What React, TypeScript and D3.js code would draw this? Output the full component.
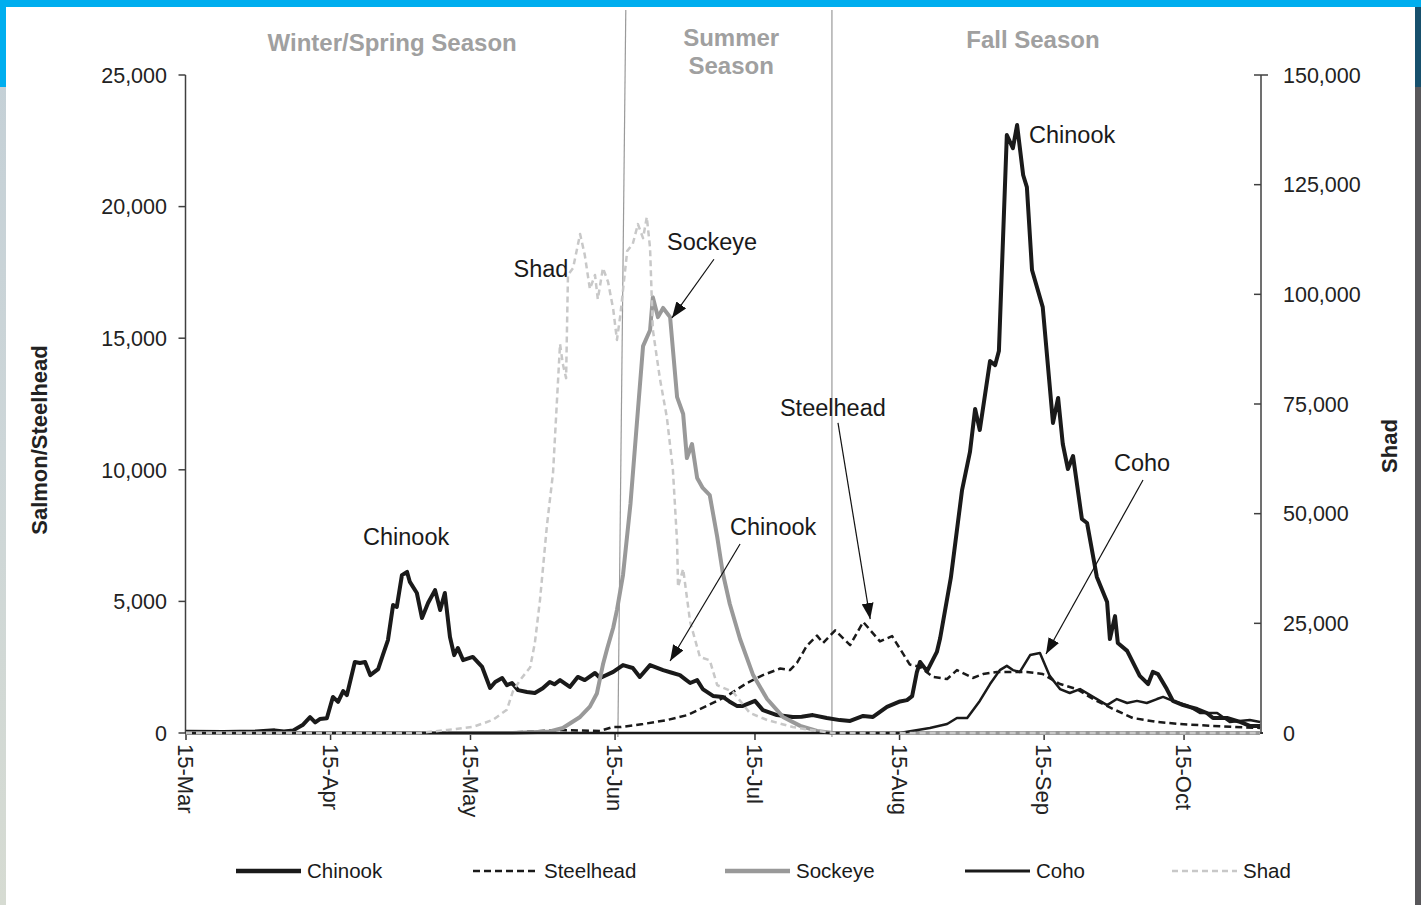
import React from 'react';
import * as d3 from 'd3';

const W = 1421;
const H = 905;

// x = days since 15-Mar
const xTickDays = [0, 31, 61, 92, 122, 153, 184, 214];
const xTickLabels = ['15-Mar', '15-Apr', '15-May', '15-Jun', '15-Jul', '15-Aug', '15-Sep', '15-Oct'];
const leftTicks = [0, 5000, 10000, 15000, 20000, 25000];
const rightTicks = [0, 25000, 50000, 75000, 100000, 125000, 150000];

const chinook: [number, number][] = [
  [0, 50], [8, 40], [15, 60], [19, 100], [21, 60], [23, 100], [25, 300], [26.6, 600], [27.7, 400], [28.7, 530],
  [30.2, 560], [31.5, 1370], [32.6, 1180], [33.7, 1590], [34.5, 1440], [36.2, 2700], [37.3, 2660], [38.4, 2700],
  [39.5, 2200], [41.2, 2430], [42.2, 2960], [43.3, 3530], [44.4, 4860], [45.2, 4790], [46.3, 6000], [47.4, 6120],
  [48, 5740], [49.5, 5320], [50.6, 4370], [51.9, 4940], [53.4, 5430], [54.5, 4670], [55.5, 5320], [56.6, 3650],
  [57.5, 2960], [58.3, 3230], [59.4, 2770], [61.5, 2890], [63.5, 2510], [65.2, 1710], [66.3, 1940], [67.8, 2090],
  [68.8, 1820], [69.9, 1900], [71.2, 1630], [73.1, 1560], [74.8, 1520], [76.5, 1700], [78, 1940], [79, 1850],
  [80.2, 2010], [82.3, 1750], [84, 2130], [85.5, 2010], [87.7, 2280], [88.8, 2090], [91.6, 2320], [93.7, 2580],
  [95.8, 2470], [97.3, 2130], [99.5, 2580], [102.3, 2390], [104, 2300], [105.9, 2200], [107, 2050], [108.1, 1900],
  [109.6, 2010], [110.8, 1670], [113, 1410], [115.1, 1370], [116.5, 1200], [118.1, 1030], [119.4, 1030], [122, 1220],
  [123.7, 870], [126.7, 680], [130.1, 610], [132, 620], [134.4, 680], [137.4, 570], [140.2, 490], [142.4, 460],
  [145.2, 650], [147.3, 610], [150.3, 990], [153.1, 1200], [154.6, 1250], [155.7, 1400], [156.7, 2300], [157.4, 2700],
  [158.9, 2350], [161, 3080], [161.7, 3600], [164, 5900], [166.4, 9230], [168.1, 10680], [169.2, 12310], [170.2, 11510],
  [172.4, 14130], [173.5, 13980], [174.3, 14510], [176, 22720], [177.3, 22220], [178.2, 23100], [179.5, 21200],
  [180.3, 20740], [181.4, 17590], [183.7, 16180], [185.9, 11780], [187, 12730], [188, 10980], [189.1, 10030],
  [190.2, 10520], [192.1, 8130], [193.2, 7980], [195.3, 5930], [197.5, 4980], [198.1, 3570], [199.2, 4440],
  [199.8, 3420], [201.8, 3120], [204.5, 2170], [206.3, 1860], [207.3, 2320], [208.4, 2240], [210.3, 1670],
  [211.6, 1220], [213.8, 1060], [216.8, 910], [218.9, 760], [220.2, 570], [223.2, 570], [226, 420], [228.1, 270],
  [230.3, 270],
];

const steelhead: [number, number][] = [
  [0, 0], [60, 0], [70, 20], [80.2, 110], [88.8, 80], [91.6, 230], [93.3, 230], [98, 340], [103.1, 490], [107.5, 680],
  [111.7, 1030], [116, 1410], [120.3, 1900], [123.7, 2200], [127.4, 2450], [129.5, 2390], [131, 2660], [133.1, 3310],
  [135.3, 3700], [136.6, 3420], [139.2, 3900], [142.4, 3340], [145.2, 4220], [148.8, 3480], [151.4, 3680],
  [155.2, 2600], [157.4, 2510], [160.2, 2130], [163.2, 2050], [165.3, 2390], [168.7, 2090], [170.9, 2240],
  [173.9, 2320], [177.3, 2320], [180.3, 2320], [183.7, 2240], [187.4, 1860], [191, 1670], [194.5, 1290],
  [198.8, 910], [203, 570], [208.2, 420], [213.1, 340], [220.2, 270], [230.3, 190],
];

const sockeye: [number, number][] = [
  [0, 0], [70, 0], [78, 60], [80.8, 190], [84.5, 610], [86.6, 1000], [88.1, 1500], [89.4, 2600], [90.3, 3200],
  [91.6, 4000], [92.4, 4670], [93.7, 6000], [95.3, 8700], [96.7, 11820], [98, 14700], [99.5, 15300], [100.1, 16560],
  [101.2, 15800], [102.3, 16150], [103.8, 15800], [105.3, 12760], [106.6, 12120], [107.4, 10450], [108.5, 10980],
  [109.6, 9690], [110.8, 9310], [112.3, 9040], [113.9, 7450], [115.1, 6080], [116.6, 4900], [118.8, 3570],
  [121.6, 2200], [124.6, 1290], [128, 610], [131.7, 270], [135.3, 80], [138.7, 0], [230.3, 0],
];

const coho: [number, number][] = [
  [0, 0], [153, 0], [159.5, 190], [163.2, 340], [165.3, 570], [167.5, 570], [170.2, 1220], [172.4, 1860],
  [174.5, 2390], [176, 2550], [177.3, 2390], [178.8, 2320], [181, 2960], [183.1, 3040], [185.2, 2170], [187.4, 1670],
  [189.5, 1520], [191.7, 1670], [194.5, 1370], [197.5, 1060], [199.6, 1290], [201.8, 1140], [203.9, 1220],
  [206, 1140], [208.2, 1290], [209.5, 1370], [211.6, 1220], [214.6, 1060], [217.4, 760], [221.1, 760], [223.8, 420],
  [228.1, 490], [230.3, 420],
];

const shad: [number, number][] = [
  [0, 0], [50, 0], [56, 700], [61.5, 1400], [64, 2300], [65.8, 3000], [68.8, 5300], [70.1, 9500], [71.6, 12000],
  [73.8, 15000], [74.8, 20500], [75.9, 30300], [77.4, 47400], [78.7, 59300], [80.2, 88700], [80.8, 84100],
  [81.5, 80900], [81.9, 104400], [83, 106000], [84.5, 113750], [85.5, 109000], [86.6, 101200], [87.7, 104400],
  [88.3, 98900], [89.4, 106000], [90.5, 102800], [91.6, 96650], [92.4, 89600], [93.1, 95000], [94.6, 109900],
  [95.8, 111500], [96.9, 116000], [98, 112800], [98.8, 117600], [99.5, 110600], [100.1, 91900], [101.6, 80900],
  [103.1, 72000], [104.4, 60000], [105.3, 43500], [105.5, 33300], [106.6, 37400], [108.1, 25300], [110.2, 17300],
  [112.3, 16600], [113.9, 10900], [117.3, 9350], [120.9, 4560], [124.6, 2960], [130.1, 1370], [135.3, 460],
  [138.7, 0], [230.3, 0],
];

// annotation labels: [text, day, value]
const labels: [string, number, number][] = [
  ['Chinook', 47.2, 7480],
  ['Shad', 76.1, 17630],
  ['Sockeye', 112.8, 18690],
  ['Chinook', 125.9, 7830],
  ['Steelhead', 138.7, 12380],
  ['Coho', 205, 10260],
  ['Chinook', 190, 22720],
];
// arrows: [fromDay, fromValue, toDay, toValue]
const arrows: [number, number, number, number][] = [
  [113.2, 18000, 104.2, 15770],
  [118.8, 7180, 103.8, 2735],
  [139.8, 11780, 146.7, 4330],
  [205.2, 9610, 184.4, 3000],
];
// season divider lines: [topDay, bottomDay]
const dividers: [number, number][] = [[94.3, 92.6], [138.5, 138.5]];
// season titles: [lines, centre day, baseline of first line]
const seasons: [string[], number, number][] = [
  [['Winter/Spring Season'], 44.2, 51],
  [['Summer', 'Season'], 116.9, 46],
  [['Fall Season'], 181.6, 48],
];

const legendItems = [
  { name: 'Chinook', color: '#1a1a1a', width: 4.5, dash: '' },
  { name: 'Steelhead', color: '#1a1a1a', width: 2.5, dash: '7,4' },
  { name: 'Sockeye', color: '#999999', width: 4.5, dash: '' },
  { name: 'Coho', color: '#1a1a1a', width: 3, dash: '' },
  { name: 'Shad', color: '#c8c8c8', width: 2.5, dash: '6,4' },
];
const legendX = [236, 473, 725, 965, 1172];

const FONT = '"Liberation Sans", Arial, Helvetica, sans-serif';

export default function App() {
  const x = d3.scaleLinear().domain([0, 230.5]).range([186, 1261]);
  const yL = d3.scaleLinear().domain([0, 25000]).range([733, 75]);
  const yR = d3.scaleLinear().domain([0, 150000]).range([733, 75]);
  const fmt = d3.format(',');

  const lineL = d3.line<[number, number]>().x(d => x(d[0])).y(d => yL(d[1]));
  const lineR = d3.line<[number, number]>().x(d => x(d[0])).y(d => yR(d[1]));

  const x0 = x(0) - 0.5;
  const x1 = x(230.5);
  const yBase = yL(0);
  const yTop = yL(25000);

  return (
    <svg width={W} height={H} style={{ position: 'absolute', left: 0, top: 0, display: 'block' }}
      fontFamily={FONT}>
      <defs>
        <linearGradient id="leftStrip" x1="0" y1="0" x2="0" y2="1">
          <stop offset="0" stopColor="#c3cfd6" />
          <stop offset="0.5" stopColor="#cdd6d8" />
          <stop offset="1" stopColor="#d6dbd2" />
        </linearGradient>
        <marker id="arrow" viewBox="0 0 16 12" refX="16" refY="6" markerWidth="16" markerHeight="12"
          markerUnits="userSpaceOnUse" orient="auto">
          <path d="M0,0 L16,6 L0,12 Z" fill="#111" />
        </marker>
      </defs>
      <rect x={0} y={0} width={W} height={H} fill="#ffffff" />
      <rect x={0} y={0} width={6} height={H} fill="url(#leftStrip)" />
      <rect x={0} y={0} width={6} height={87} fill="#00aeef" />
      <rect x={1415} y={0} width={6} height={H} fill="#58575a" />
      <rect x={1415} y={0} width={6} height={87} fill="#17506d" />
      <rect x={0} y={0} width={W} height={7} fill="#00aeef" />

      {/* season dividers */}
      {dividers.map((d, i) => (
        <line key={i} x1={x(d[0])} y1={10} x2={x(d[1])} y2={yBase + 4} stroke="#9a9a9a" strokeWidth={1.2} />
      ))}
      {seasons.map((s, i) => (
        <text key={i} x={x(s[1])} y={s[2]} textAnchor="middle" fontSize={24}
          fontWeight="bold" fill="#a0a0a0">
          {s[0].map((t, j) => (
            <tspan key={j} x={x(s[1])} dy={j === 0 ? 0 : 28}>{t}</tspan>
          ))}
        </text>
      ))}

      {/* left axis */}
      <line x1={x0} y1={yTop} x2={x0} y2={yBase} stroke="#404040" strokeWidth={1.5} />
      {leftTicks.map(t => (
        <g key={t}>
          <line x1={x0 - 7} x2={x0} y1={yL(t)} y2={yL(t)} stroke="#404040" strokeWidth={1.5} />
          <text x={167} y={yL(t)} dy="0.36em" textAnchor="end" fontSize={21.5} fill="#222">{fmt(t)}</text>
        </g>
      ))}
      {/* right axis */}
      <line x1={x1} y1={yTop} x2={x1} y2={yBase} stroke="#404040" strokeWidth={1.5} />
      {rightTicks.map(t => (
        <g key={t}>
          <line x1={x1 - 7} x2={t === 150000 ? x1 + 7 : x1} y1={yR(t)} y2={yR(t)} stroke="#404040" strokeWidth={1.5} />
          <text x={1283} y={yR(t)} dy="0.36em" textAnchor="start" fontSize={21.5} fill="#222">{fmt(t)}</text>
        </g>
      ))}
      {/* x axis */}
      <line x1={x0} y1={yBase} x2={x1 + 2} y2={yBase} stroke="#333" strokeWidth={2} />
      {xTickDays.map((d, i) => (
        <g key={d}>
          <line x1={x(d)} x2={x(d)} y1={yBase} y2={yBase + 7} stroke="#333" strokeWidth={1.5} />
          <text transform={`translate(${x(d)},744) rotate(90)`} dy="0.35em" textAnchor="start"
            fontSize={22} fill="#222">{xTickLabels[i]}</text>
        </g>
      ))}

      {/* axis titles */}
      <text transform={`translate(39,440) rotate(-90)`} textAnchor="middle" dy="0.35em" fontSize={22}
        fontWeight="bold" fill="#222">Salmon/Steelhead</text>
      <text transform={`translate(1389,446) rotate(-90)`} textAnchor="middle" dy="0.35em" fontSize={22}
        fontWeight="bold" fill="#222">Shad</text>

      {/* annotation labels (drawn before lines) */}
      {labels.map((l, i) => (
        <text key={i} x={x(l[1])} y={yL(l[2])} dy="0.36em" textAnchor="middle" fontSize={23.5} fill="#1a1a1a">{l[0]}</text>
      ))}

      {/* series */}
      <path d={lineL(chinook) || ''} fill="none" stroke="#1a1a1a" strokeWidth={4} strokeLinejoin="round" />
      <path d={lineL(steelhead) || ''} fill="none" stroke="#1a1a1a" strokeWidth={2.5} strokeDasharray="7,4" strokeLinejoin="round" />
      <path d={lineL(sockeye) || ''} fill="none" stroke="#999999" strokeWidth={4} strokeLinejoin="round" />
      <path d={lineL(coho) || ''} fill="none" stroke="#1a1a1a" strokeWidth={2.5} strokeLinejoin="round" />
      <path d={lineR(shad) || ''} fill="none" stroke="#c8c8c8" strokeWidth={2.5} strokeDasharray="6,4" strokeLinejoin="round" />

      {/* arrows */}
      {arrows.map((a, i) => (
        <line key={i} x1={x(a[0])} y1={yL(a[1])} x2={x(a[2])} y2={yL(a[3])} stroke="#111" strokeWidth={1.2}
          markerEnd="url(#arrow)" />
      ))}

      {/* legend */}
      {legendItems.map((it, i) => (
        <g key={it.name}>
          <line x1={legendX[i]} x2={legendX[i] + 65} y1={871} y2={871} stroke={it.color} strokeWidth={it.width}
            strokeDasharray={it.dash || undefined} />
          <text x={legendX[i] + 71} y={871} dy="0.36em" fontSize={20.5} fill="#1a1a1a">{it.name}</text>
        </g>
      ))}
    </svg>
  );
}
